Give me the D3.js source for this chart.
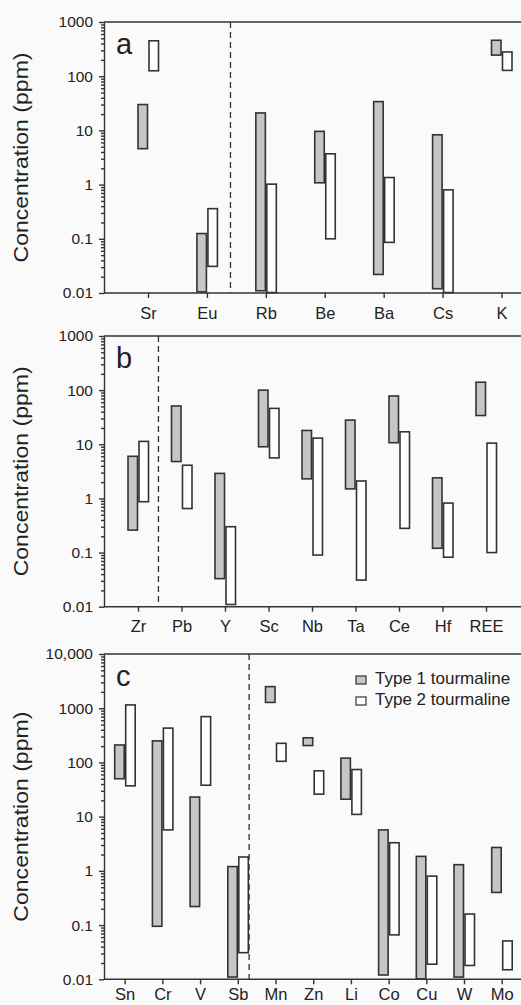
<!DOCTYPE html>
<html lang="en">
<head>
    <meta charset="UTF-8">
    <title>Tourmaline trace elements</title>
    <script src="https://d3js.org/d3.v7.min.js"></script>
    <style>
        body { margin: 0; background: #fafafa; }
        svg { font-family: "Liberation Sans", Arial, sans-serif; }
        .bar { stroke: #333; stroke-width: 1.6px; }
        .axis path, .axis line { stroke: #333; stroke-width: 1.4px; }
        .axis text { fill: #222; }
    </style>
</head>
<body>
    <div id="chart"></div>

    <script>
        // panel a
        const elementsA = ["Sr", "Eu", "Rb", "Be", "Ba", "Cs", "K"];
        const type1A = [[4.6, 30], [0.0105, 0.125], [0.011, 21], [1.08, 9.6], [0.022, 34], [0.012, 8.3], [245, 460]];
        const type2A = [[126, 450], [0.031, 0.36], [0.0102, 1.02], [0.1, 3.7], [0.086, 1.35], [0.0102, 0.8], [128, 280]];

        // panel b
        const elementsB = ["Zr", "Pb", "Y", "Sc", "Nb", "Ta", "Ce", "Hf", "REE"];
        const type1B = [[0.26, 6], [4.8, 51], [0.033, 2.9], [9, 100], [2.3, 18], [1.5, 28], [10.7, 78], [0.12, 2.4], [34, 140]];
        const type2B = [[0.87, 11.3], [0.65, 4.1], [0.011, 0.3], [5.6, 46], [0.09, 13], [0.031, 2.1], [0.28, 17], [0.082, 0.82], [0.1, 10.5]];

        // panel c
        const elementsC = ["Sn", "Cr", "V", "Sb", "Mn", "Zn", "Li", "Co", "Cu", "W", "Mo"];
        const type1C = [[50, 210], [0.095, 250], [0.22, 23], [0.011, 1.2], [1280, 2500], [205, 285], [21, 120], [0.012, 5.7], [0.0102, 1.85], [0.011, 1.3], [0.4, 2.7]];
        const type2C = [[37, 1150], [5.7, 430], [38, 700], [0.031, 1.8], [105, 225], [26, 70], [11, 74], [0.066, 3.3], [0.019, 0.8], [0.018, 0.16], [0.015, 0.051]];

        const seriesNames = ["Type 1 tourmaline", "Type 2 tourmaline"];
        const seriesFill = ["#c6c6c6", "#ffffff"];

        const width = 521;
        const height = 1005;
        const left = 104;
        const right = 521;

        const panels = [
            { label: "a", top: 22, bottom: 293, yMax: 1000, x0: 148, x1: 501.5, divider: 1.4, pad: 9,
              elements: elementsA, series: [type1A, type2A] },
            { label: "b", top: 336, bottom: 606.7, yMax: 1000, x0: 138, x1: 486, divider: 0.47, pad: 9,
              elements: elementsB, series: [type1B, type2B] },
            { label: "c", top: 654, bottom: 979.3, yMax: 10000, x0: 124.7, x1: 501.7, divider: 3.3, pad: 4,
              elements: elementsC, series: [type1C, type2C], legend: true }
        ];

        const svg = d3.select("#chart").append("svg")
            .attr("width", width)
            .attr("height", height);

        const fmt = d => d >= 10000 ? d3.format(",")(d) : String(d);

        panels.forEach(p => {
            const g = svg.append("g");

            const y = d3.scaleLog()
                .domain([0.01, p.yMax])
                .range([p.bottom, p.top]);

            const x = d3.scaleLinear()
                .domain([0, p.elements.length - 1])
                .range([p.x0, p.x1]);

            const majors = d3.range(-2, Math.log10(p.yMax) + 1).map(e => Math.pow(10, e));
            const minors = y.ticks().filter(t => !majors.some(m => Math.abs(m - t) / m < 1e-6));

            // minor ticks
            g.append("g")
                .attr("class", "axis")
                .attr("transform", `translate(${left},0)`)
                .call(d3.axisLeft(y).tickValues(minors).tickSize(3).tickFormat(""))
                .call(s => s.select(".domain").remove());

            // major ticks + axis line
            g.append("g")
                .attr("class", "axis")
                .attr("transform", `translate(${left},0)`)
                .call(d3.axisLeft(y).tickValues(majors).tickSize(5).tickSizeOuter(0)
                    .tickPadding(6).tickFormat(fmt))
                .call(s => s.selectAll("text").style("font-size", "15.5px"));

            // bottom axis
            g.append("g")
                .attr("class", "axis")
                .attr("transform", `translate(0,${p.bottom})`)
                .call(d3.axisBottom(x).tickValues(d3.range(p.elements.length))
                    .tickSize(5).tickPadding(p.pad).tickFormat(i => p.elements[i]))
                .call(s => s.select(".domain").remove())
                .call(s => s.selectAll("text").style("font-size", "16.5px"));

            // frame lines
            g.append("line")
                .attr("x1", left).attr("x2", right)
                .attr("y1", p.bottom).attr("y2", p.bottom)
                .attr("stroke", "#333").attr("stroke-width", 1.4);
            g.append("line")
                .attr("x1", left).attr("x2", right)
                .attr("y1", p.top).attr("y2", p.top)
                .attr("stroke", "#333").attr("stroke-width", 1.4);

            // divider
            g.append("line")
                .attr("x1", x(p.divider)).attr("x2", x(p.divider))
                .attr("y1", p.top).attr("y2", p.bottom)
                .attr("stroke", "#333").attr("stroke-width", 1.3)
                .attr("stroke-dasharray", "6,4");

            // bars
            const barW = 9.5;
            const offsets = [-10, 1];
            p.series.forEach((ranges, si) => {
                g.append("g")
                    .selectAll("rect")
                    .data(ranges)
                    .enter().append("rect")
                    .attr("class", "bar")
                    .attr("x", (d, i) => x(i) + offsets[si])
                    .attr("width", barW)
                    .attr("y", d => y(d[1]))
                    .attr("height", d => y(d[0]) - y(d[1]))
                    .attr("fill", seriesFill[si]);
            });

            // panel letter
            g.append("text")
                .attr("x", 116)
                .attr("y", p.top + 32)
                .style("font-size", "29px")
                .attr("fill", "#222")
                .text(p.label);

            // y label
            g.append("text")
                .attr("transform", `translate(28,${(p.top + p.bottom) / 2}) rotate(-90)`)
                .attr("text-anchor", "middle")
                .attr("textLength", 210)
                .attr("lengthAdjust", "spacingAndGlyphs")
                .style("font-size", "21px")
                .attr("fill", "#222")
                .text("Concentration (ppm)");

            if (p.legend) {
                const lg = g.append("g");
                seriesNames.forEach((name, si) => {
                    const base = p.top + 30 + si * 21;
                    lg.append("rect")
                        .attr("x", 356).attr("y", base - 8)
                        .attr("width", 10).attr("height", 8)
                        .attr("fill", seriesFill[si])
                        .attr("stroke", "#333").attr("stroke-width", 1.2);
                    lg.append("text")
                        .attr("x", 375).attr("y", base)
                        .style("font-size", "17px")
                        .attr("fill", "#222")
                        .text(name);
                });
            }
        });
    </script>
</body>
</html>
